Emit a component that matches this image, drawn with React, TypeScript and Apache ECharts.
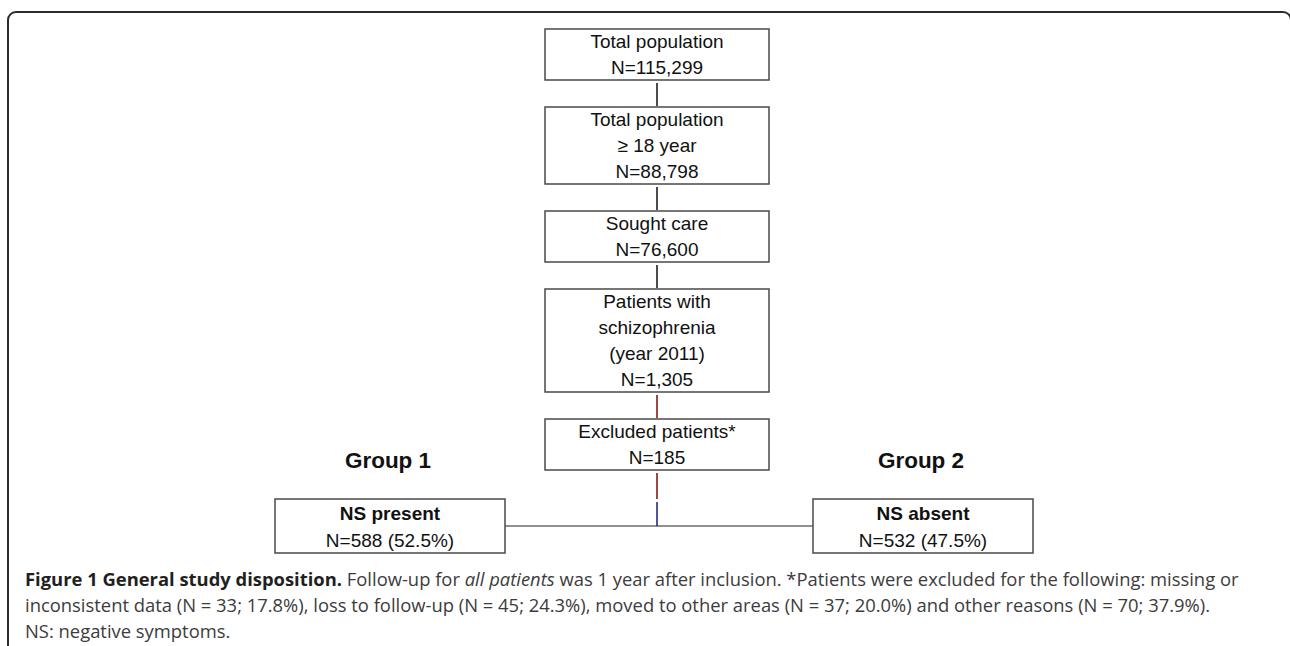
import React, { useEffect, useRef } from "react";
import * as echarts from "echarts";

// ---- data ----
const stepLabels: string[][] = [
  ["Total population"],
  ["Total population", "≥ 18 year"],
  ["Sought care"],
  ["Patients with", "schizophrenia", "(year 2011)"],
  ["Excluded patients*"],
];
const stepCounts: string[] = ["115,299", "88,798", "76,600", "1,305", "185"];
const groupNames: string[] = ["Group 1", "Group 2"];
const groupLabels: string[] = ["NS present", "NS absent"];
const groupCounts: string[] = ["588", "532"];
const groupPercents: string[] = ["52.5%", "47.5%"];
const captionTitle = "Figure 1 General study disposition.";
const captionLines: string[] = [
  "inconsistent data (N = 33; 17.8%), loss to follow-up (N = 45; 24.3%), moved to other areas (N = 37; 20.0%) and other reasons (N = 70; 37.9%).",
  "NS: negative symptoms.",
];

// ---- layout ----
const BOX_X = 545;
const BOX_W = 224;
const FIRST_TOP = 29;
const LINE_H = 26;
const GAP = 27;
const BOX_FONT = "Liberation Sans, Arial, sans-serif";
const CAP_FONT = "Open Sans, sans-serif";
const CAP_SIZE = 18.4;

export default function App() {
  const ref = useRef<HTMLDivElement>(null);
  useEffect(() => {
    if (!ref.current) return;
    const chart = echarts.init(ref.current, null, { renderer: "svg" });
    const els: any[] = [];
    const cx = BOX_X + BOX_W / 2;

    // outer frame
    els.push({
      type: "rect",
      shape: { x: 8, y: 12, width: 1283, height: 700, r: 8 },
      style: { fill: "none", stroke: "#2b2b2b", lineWidth: 2 },
    });

    const tops: number[] = [];
    const bottoms: number[] = [];
    let top = FIRST_TOP;
    stepLabels.forEach((lines, i) => {
      const all = [...lines, "N=" + stepCounts[i]];
      const h = all.length * LINE_H - 1;
      tops.push(top);
      bottoms.push(top + h);
      els.push({
        type: "rect",
        shape: { x: BOX_X, y: top, width: BOX_W, height: h },
        style: { fill: "#fff", stroke: "#4a4a4a", lineWidth: 1.5 },
      });
      els.push({
        type: "text",
        x: cx,
        y: top + h / 2,
        style: {
          text: all.join("\n"),
          fill: "#111",
          font: `19px ${BOX_FONT}`,
          lineHeight: LINE_H,
          align: "center",
          verticalAlign: "middle",
        },
      });
      top = top + h + GAP;
    });

    // vertical connectors
    for (let i = 0; i < stepLabels.length - 1; i++) {
      const color = i === stepLabels.length - 2 ? "#7d0a0a" : "#111";
      els.push({
        type: "line",
        shape: { x1: cx, y1: bottoms[i] + 3, x2: cx, y2: tops[i + 1] - 1 },
        style: { stroke: color, lineWidth: 1.5 },
      });
    }

    const gTop = 499;
    const gH = 54;
    const hLineY = gTop + gH / 2;
    const lastBottom = bottoms[bottoms.length - 1];
    els.push({
      type: "line",
      shape: { x1: cx, y1: lastBottom + 3, x2: cx, y2: gTop },
      style: { stroke: "#7d0a0a", lineWidth: 1.5 },
    });
    els.push({
      type: "line",
      shape: { x1: cx, y1: gTop + 3, x2: cx, y2: hLineY },
      style: { stroke: "#1a1a80", lineWidth: 1.5 },
    });

    const gBoxes = [
      { x: 275, w: 230 },
      { x: 813, w: 220 },
    ];
    els.push({
      type: "line",
      shape: { x1: gBoxes[0].x + gBoxes[0].w, y1: hLineY, x2: gBoxes[1].x, y2: hLineY },
      style: { stroke: "#222", lineWidth: 1.2 },
    });
    groupNames.forEach((name, i) => {
      const b = gBoxes[i];
      const gcx = b.x + b.w / 2;
      els.push({
        type: "text",
        x: gcx - 2,
        y: 460,
        style: {
          text: name,
          fill: "#111",
          font: `bold 22.5px ${BOX_FONT}`,
          align: "center",
          verticalAlign: "middle",
        },
      });
      els.push({
        type: "rect",
        shape: { x: b.x, y: gTop, width: b.w, height: gH },
        style: { fill: "#fff", stroke: "#4a4a4a", lineWidth: 1.5 },
      });
      els.push({
        type: "text",
        x: gcx,
        y: gTop + gH / 2 - 13,
        style: {
          text: groupLabels[i],
          fill: "#111",
          font: `bold 19px ${BOX_FONT}`,
          align: "center",
          verticalAlign: "middle",
        },
      });
      els.push({
        type: "text",
        x: gcx,
        y: gTop + gH / 2 + 14,
        style: {
          text: `N=${groupCounts[i]} (${groupPercents[i]})`,
          fill: "#111",
          font: `19px ${BOX_FONT}`,
          align: "center",
          verticalAlign: "middle",
        },
      });
    });

    // caption
    els.push({
      type: "text",
      x: 25,
      y: 578,
      style: {
        text:
          `{b|${captionTitle}}{n| Follow-up for }{i|all patients}{n| was 1 year after inclusion. *Patients were excluded for the following: missing or}`,
        verticalAlign: "middle",
        rich: {
          b: { font: `bold ${CAP_SIZE}px ${CAP_FONT}`, fill: "#231f20" },
          n: { font: `${CAP_SIZE}px ${CAP_FONT}`, fill: "#3c3c3c" },
          i: { font: `italic ${CAP_SIZE}px ${CAP_FONT}`, fill: "#3c3c3c" },
        },
      },
    });
    captionLines.forEach((t, i) => {
      els.push({
        type: "text",
        x: 25,
        y: 604 + i * 26,
        style: {
          text: t,
          fill: "#3c3c3c",
          font: `${CAP_SIZE}px ${CAP_FONT}`,
          verticalAlign: "middle",
        },
      });
    });

    chart.setOption({
      animation: false,
      backgroundColor: "#fff",
      graphic: { elements: els },
    });
    return () => chart.dispose();
  }, []);
  return (
    <div
      ref={ref}
      style={{ position: "fixed", left: 0, top: 0, width: 1290, height: 646 }}
    />
  );
}
